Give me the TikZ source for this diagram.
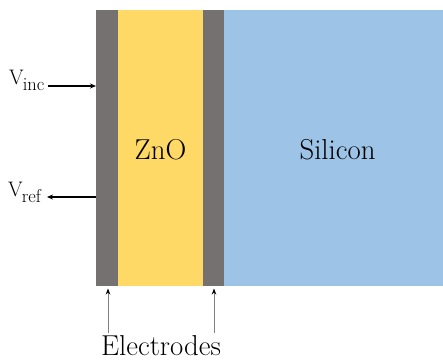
\documentclass[tikz,border=0pt]{standalone}
\usetikzlibrary{arrows.meta}
\definecolor{elec}{HTML}{767171}
\definecolor{zno}{HTML}{FFD966}
\definecolor{sil}{HTML}{9DC3E6}
\begin{document}
\begin{tikzpicture}[x=1pt,y=-1pt,
  bigtext/.style={font=\fontsize{28.8}{31}\selectfont,inner sep=0pt},
  vlabel/.style={font=\fontsize{21}{23}\selectfont,inner sep=0pt,anchor=base west},
  sigarrow/.style={line width=1.3pt,-{Stealth[length=6pt,width=5pt]}},
  ptrarrow/.style={draw=gray,line width=0.8pt,-{Stealth[length=6pt,width=4.5pt,color=black]}}]
\useasboundingbox (0,0) rectangle (443,360);
% layers
\fill[elec] (96,10) rectangle (118,286);
\fill[zno] (118,10) rectangle (203,286);
\fill[elec] (203,10) rectangle (224,286);
\fill[sil] (224,10) rectangle (443,286);
% texts
\node[bigtext] (zno) at (160.5,150) {ZnO};
\node[bigtext] (sil) at (337.5,150) {Silicon};
\node[bigtext,anchor=base] (el) at (161,355) {Electrodes};
% signals
\node[vlabel] (vinc) at (9,84) {V\kern-1pt\raisebox{-6pt}{\fontsize{18.5}{20}\selectfont inc}};
\node[vlabel] (vref) at (8,196.5) {V\kern-1pt\raisebox{-6pt}{\fontsize{18.5}{20}\selectfont ref}};
\coordinate (incstart) at (48,86);
\coordinate (incend) at (96,86);
\coordinate (refstart) at (96,197);
\coordinate (refend) at (47,197);
\draw[sigarrow] (incstart) -- (incend);
\draw[sigarrow] (refstart) -- (refend);
% electrode pointers
\coordinate (lp) at (108,333);
\coordinate (rp) at (214,333);
\coordinate (ltip) at (108,288.5);
\coordinate (rtip) at (214,288.5);
\draw[ptrarrow] (lp) -- (ltip);
\draw[ptrarrow] (rp) -- (rtip);
\end{tikzpicture}
\end{document}
